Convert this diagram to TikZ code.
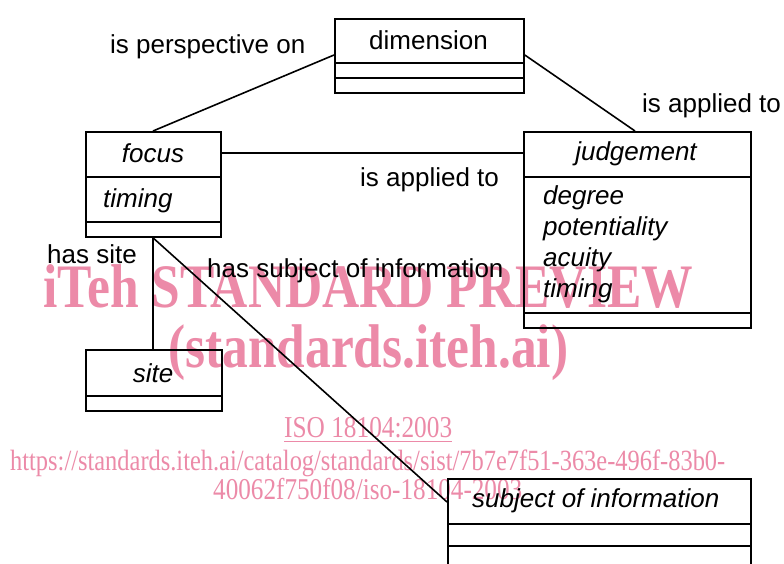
\documentclass[tikz,border=0pt]{standalone}
\usepackage{fontspec}
\setmainfont{Liberation Sans}
\newfontfamily\wmfont{Liberation Serif}
\usetikzlibrary{calc}
\definecolor{wmpink}{RGB}{236,138,168}
\tikzset{
  classbox/.style={draw, line width=1.8pt, inner sep=0pt, anchor=north west},
  divider/.style={line width=1.8pt},
  assoc/.style={line width=1.6pt},
  lbl/.style={inner sep=0pt, anchor=base west, font=\fontsize{26}{31}\selectfont},
  cname/.style={lbl, anchor=base, font=\fontsize{26}{31}\selectfont\itshape},
  attr/.style={lbl, font=\fontsize{26}{31}\selectfont\itshape},
  wm/.style={inner sep=0pt, anchor=base west, text=wmpink, font=\wmfont}
}
\begin{document}
\begin{tikzpicture}[x=1pt,y=-1pt]
\useasboundingbox (0,0) rectangle (784,563);
\fill[white] (0,0) rectangle (784,563);
\clip (0,0) rectangle (784,563);

% preview stamp behind the diagram
\node[wm] (wmA) at (43,307) {\scalebox{1}[1.2]{\resizebox{650pt}{!}{\bfseries iTeh STANDARD PREVIEW}}};
\node[wm] (wmB) at (168,367) {\scalebox{1}[1.2]{\resizebox{400pt}{!}{\bfseries (standards.iteh.ai)}}};
\node[wm] (wmC) at (284,437) {\scalebox{1}[1.2]{\resizebox{168pt}{!}{\underline{ISO 18104:2003}}}};
\node[wm] (wmD) at (10,470) {\scalebox{1}[1.2]{\resizebox{715pt}{!}{https://standards.iteh.ai/catalog/standards/sist/7b7e7f51-363e-496f-83b0-}}};
\node[wm] (wmE) at (213,499) {\scalebox{1}[1.2]{\resizebox{309pt}{!}{40062f750f08/iso-18104-2003}}};

% class boxes
\node[classbox, minimum width=189pt, minimum height=74pt] (dim) at (334,18) {};
\node[classbox, minimum width=135pt, minimum height=105pt] (focus) at (85,131) {};
\node[classbox, minimum width=227pt, minimum height=196pt] (judg) at (523,131) {};
\node[classbox, minimum width=136pt, minimum height=61pt] (site) at (85,349) {};
\node[classbox, minimum width=303pt, minimum height=120pt] (subj) at (447,478) {};

% compartment dividers
\draw[divider] ([yshift=-45pt]dim.north west) -- ([yshift=-45pt]dim.north east);
\draw[divider] ([yshift=-60pt]dim.north west) -- ([yshift=-60pt]dim.north east);
\draw[divider] ([yshift=-46pt]focus.north west) -- ([yshift=-46pt]focus.north east);
\draw[divider] ([yshift=-91pt]focus.north west) -- ([yshift=-91pt]focus.north east);
\draw[divider] ([yshift=-46pt]judg.north west) -- ([yshift=-46pt]judg.north east);
\draw[divider] ([yshift=-182pt]judg.north west) -- ([yshift=-182pt]judg.north east);
\draw[divider] ([yshift=-47pt]site.north west) -- ([yshift=-47pt]site.north east);
\draw[divider] ([yshift=-46pt]subj.north west) -- ([yshift=-46pt]subj.north east);
\draw[divider] ([yshift=-68pt]subj.north west) -- ([yshift=-68pt]subj.north east);

% class names and attributes
\node[lbl, anchor=base] (dimname) at (428.5,49) {dimension};
\node[cname] (focusname) at (153,162) {focus};
\node[attr] (focusA) at (103,207) {timing};
\node[cname] (judgname) at (636,160) {judgement};
\node[attr] (judgA) at (543,204) {degree};
\node[attr] (judgB) at (543,235) {potentiality};
\node[attr] (judgC) at (543,266) {acuity};
\node[attr] (judgD) at (543,297) {timing};
\node[cname] (sitename) at (153,382) {site};
\node[attr] (subjname) at (472,507) {subject of information};

% associations
\draw[assoc] ([yshift=-37pt]dim.north west) -- ([xshift=68pt]focus.north west);
\draw[assoc] ([yshift=-37pt]dim.north east) -- ([xshift=112pt]judg.north west);
\draw[assoc] ([yshift=-22pt]focus.north east) -- ([yshift=-22pt]judg.north west);
\draw[assoc] ([xshift=68pt]focus.south west) -- ([xshift=68pt]site.north west);
\draw[assoc] ([xshift=68pt]focus.south west) -- ([yshift=-24pt]subj.north west);

% association labels
\node[lbl] (l1) at (110,53) {is perspective on};
\node[lbl] (l2) at (642,112) {is applied to};
\node[lbl] (l3) at (360,186) {is applied to};
\node[lbl] (l4) at (47,263) {has site};
\node[lbl] (l5) at (207,277) {has subject of information};
\end{tikzpicture}
\end{document}
